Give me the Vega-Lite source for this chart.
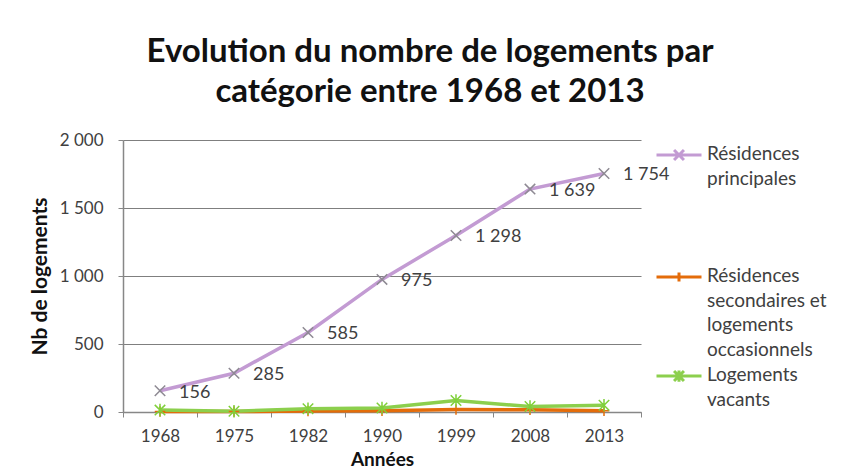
{
  "$schema": "https://vega.github.io/schema/vega-lite/v6.json",
  "width": 518,
  "height": 272,
  "autosize": {"type": "none"},
  "padding": {"left": 123, "top": 140, "right": 217, "bottom": 61},
  "background": "white",
  "config": {
    "locale": {"number": {"decimal": ",", "thousands": " ", "grouping": [3], "currency": ["", " €"]}},
    "font": "Lato",
    "view": {"stroke": null}
  },
  "title": {
    "text": ["Evolution du nombre de logements par", "catégorie entre 1968 et 2013"],
    "font": "Lato",
    "fontSize": 33,
    "fontWeight": "bold",
    "color": "#111111",
    "anchor": "middle",
    "frame": "group",
    "dx": 48,
    "offset": 22,
    "lineHeight": 40
  },
  "data": {
    "values": [
      {"annee": "1968", "serie": "Résidences principales", "valeur": 156},
      {"annee": "1975", "serie": "Résidences principales", "valeur": 285},
      {"annee": "1982", "serie": "Résidences principales", "valeur": 585},
      {"annee": "1990", "serie": "Résidences principales", "valeur": 975},
      {"annee": "1999", "serie": "Résidences principales", "valeur": 1298},
      {"annee": "2008", "serie": "Résidences principales", "valeur": 1639},
      {"annee": "2013", "serie": "Résidences principales", "valeur": 1754},
      {"annee": "1968", "serie": "Résidences secondaires et logements occasionnels", "valeur": 4},
      {"annee": "1975", "serie": "Résidences secondaires et logements occasionnels", "valeur": 3},
      {"annee": "1982", "serie": "Résidences secondaires et logements occasionnels", "valeur": 8},
      {"annee": "1990", "serie": "Résidences secondaires et logements occasionnels", "valeur": 10},
      {"annee": "1999", "serie": "Résidences secondaires et logements occasionnels", "valeur": 18},
      {"annee": "2008", "serie": "Résidences secondaires et logements occasionnels", "valeur": 16},
      {"annee": "2013", "serie": "Résidences secondaires et logements occasionnels", "valeur": 10},
      {"annee": "1968", "serie": "Logements vacants", "valeur": 14},
      {"annee": "1975", "serie": "Logements vacants", "valeur": 5},
      {"annee": "1982", "serie": "Logements vacants", "valeur": 24},
      {"annee": "1990", "serie": "Logements vacants", "valeur": 30},
      {"annee": "1999", "serie": "Logements vacants", "valeur": 85},
      {"annee": "2008", "serie": "Logements vacants", "valeur": 40},
      {"annee": "2013", "serie": "Logements vacants", "valeur": 50}
    ]
  },
  "encoding": {
    "x": {
      "field": "annee",
      "type": "ordinal",
      "scale": {"type": "band", "paddingInner": 0, "paddingOuter": 0},
      "axis": {
        "title": "Années",
        "titleFont": "Lato",
        "titleFontSize": 19,
        "titleFontWeight": "bold",
        "titleColor": "#111111",
        "titlePadding": 6,
        "labelAngle": 0,
        "labelFont": "Lato",
        "labelFontSize": 17,
        "labelColor": "#404040",
        "labelPadding": 11,
        "tickBand": "extent",
        "tickSize": 5,
        "tickColor": "#878787",
        "domainColor": "#878787",
        "domainWidth": 1.5,
        "grid": false
      }
    },
    "y": {
      "field": "valeur",
      "type": "quantitative",
      "scale": {"domain": [0, 2000], "nice": false},
      "axis": {
        "title": "Nb de logements",
        "titleFont": "Lato",
        "titleFontSize": 21,
        "titleFontWeight": "bold",
        "titleColor": "#111111",
        "titlePadding": 9,
        "values": [0, 500, 1000, 1500, 2000],
        "format": ",d",
        "labelFont": "Lato",
        "labelFontSize": 17,
        "labelColor": "#404040",
        "labelPadding": 15,
        "tickSize": 5,
        "tickColor": "#878787",
        "domainColor": "#878787",
        "domainWidth": 1.5,
        "grid": true,
        "gridColor": "#7f7f7f",
        "gridWidth": 1.2
      }
    }
  },
  "layer": [
    {
      "mark": {"type": "line", "strokeWidth": 3.5},
      "encoding": {
        "color": {
          "field": "serie",
          "type": "nominal",
          "scale": {
            "domain": ["Résidences principales", "Résidences secondaires et logements occasionnels", "Logements vacants"],
            "range": ["#C39BD3", "#E46C0A", "#8CCF4D"]
          },
          "legend": {
            "orient": "none",
            "legendX": 532,
            "legendY": 5,
            "title": null,
            "padding": 0,
            "rowPadding": 4,
            "labelFont": "Lato",
            "labelFontSize": 19,
            "labelColor": "#404040",
            "labelLimit": 250,
            "labelOffset": 4,
            "labelBaseline": "top",
            "symbolSize": 2025,
            "symbolStrokeWidth": 3,
            "labelExpr": "datum.label == 'Résidences principales' ? ['Résidences', 'principales', '', '', ''] : datum.label == 'Logements vacants' ? ['Logements', 'vacants'] : ['Résidences', 'secondaires et', 'logements', 'occasionnels']",
            "encode": {
              "labels": {"update": {"lineHeight": {"value": 24.5}, "y": {"value": 0}, "baseline": {"value": "top"}}},
              "symbols": {"update": {
                "y": {"value": 10},
                "fill": {"value": "transparent"},
                "shape": {"signal": "datum.value == 'Résidences principales' ? 'M-1,0L1,0M-0.22,-0.22L0.22,0.22M0.22,-0.22L-0.22,0.22' : datum.value == 'Logements vacants' ? 'M-1,0L1,0M-0.22,-0.22L0.22,0.22M0.22,-0.22L-0.22,0.22M0,-0.25L0,0.25' : 'M-1,0L1,0M0,-0.2L0,0.2'"}
              }}
            }
          }
        }
      }
    },
    {
      "transform": [{"filter": "datum.serie == 'Résidences principales'"}],
      "mark": {"type": "point", "filled": false, "strokeWidth": 1.5, "size": 110, "opacity": 1, "color": "#8E8A93", "shape": "M-1,-1L1,1M1,-1L-1,1"}
    },
    {
      "transform": [{"filter": "datum.serie == 'Résidences secondaires et logements occasionnels'"}],
      "mark": {"type": "point", "filled": false, "strokeWidth": 1.5, "size": 110, "opacity": 1, "color": "#E46C0A", "shape": "M-1,0L1,0M0,-1L0,1"}
    },
    {
      "transform": [{"filter": "datum.serie == 'Logements vacants'"}],
      "mark": {"type": "point", "filled": false, "strokeWidth": 1.5, "size": 110, "opacity": 1, "color": "#7FD03A", "shape": "M-1,-1L1,1M1,-1L-1,1M0,-1.2L0,1.2"}
    },
    {
      "transform": [{"filter": "datum.serie == 'Résidences principales'"}],
      "mark": {"type": "text", "align": "left", "baseline": "middle", "dx": 19, "dy": 2, "font": "Lato", "fontSize": 18, "color": "#404040"},
      "encoding": {
        "text": {"field": "valeur", "type": "quantitative", "format": ",d"}
      }
    }
  ]
}
